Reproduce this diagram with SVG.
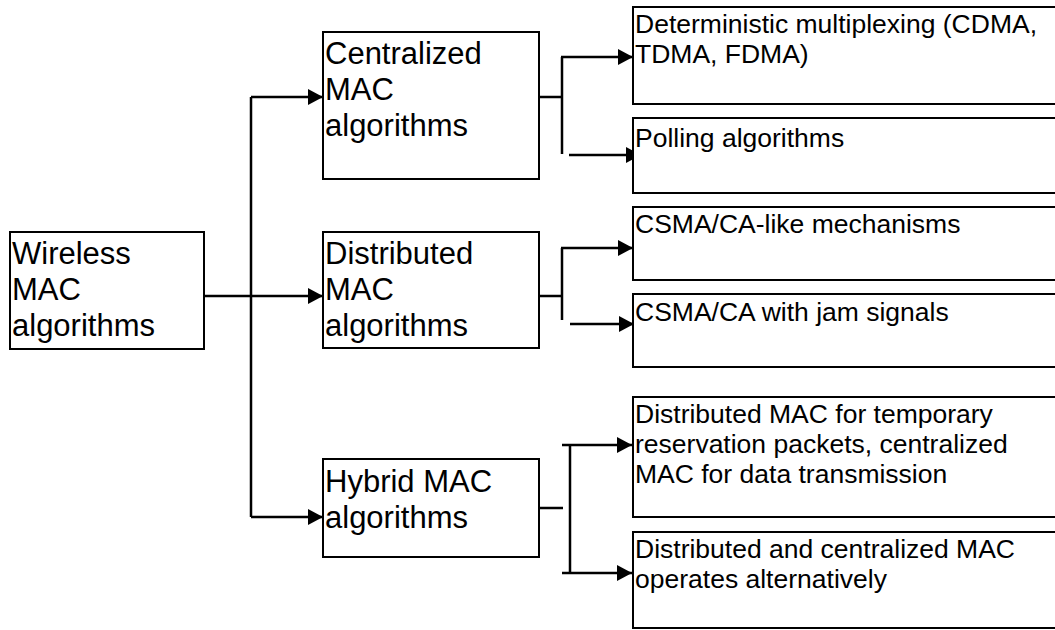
<svg xmlns="http://www.w3.org/2000/svg" width="1055" height="630" viewBox="0 0 1055 630">
<style>
.box{fill:#fff;stroke:#000;stroke-width:2}
.lt{font-family:"Liberation Sans",Arial,sans-serif;font-size:31px;fill:#000}
.rt{font-family:"Liberation Sans",Arial,sans-serif;font-size:26.5px;fill:#000}
.c{fill:none;stroke:#000;stroke-width:2.5}
.a{fill:none;stroke:#000;stroke-width:2.5;marker-end:url(#ah)}
</style>
<defs>
<marker id="ah" markerUnits="userSpaceOnUse" markerWidth="15" markerHeight="16" refX="15" refY="8" orient="auto">
<path d="M0,0 L15,8 L0,16 z" fill="#000"/>
</marker>
</defs>
<rect width="1055" height="630" fill="#fff"/>
<g id="connectors">
<path class="c" d="M204,296 H251 M251,97 V517"/>
<path class="a" d="M251,97 H323"/>
<path class="a" d="M251,296 H323"/>
<path class="a" d="M251,517 H323"/>
<path class="c" d="M539,97 H562 M562,57 V154"/>
<path class="a" d="M561,57 H633"/>
<path class="a" d="M569,155 H641"/>
<path class="c" d="M539,296 H562 M562,248 V320"/>
<path class="a" d="M561,248 H633"/>
<path class="a" d="M570,324 H634"/>
<path class="c" d="M539,508 H563 M570,446 V573"/>
<path class="a" d="M562,445 H632"/>
<path class="a" d="M562,573 H632"/>
</g>
<g id="wireless">
<rect class="box" x="10" y="232" width="194" height="117"/>
<text class="lt" x="12" y="264">Wireless</text>
<text class="lt" x="12" y="300">MAC</text>
<text class="lt" x="12" y="336">algorithms</text>
</g>
<g id="centralized">
<rect class="box" x="323" y="32" width="216" height="147"/>
<text class="lt" x="325" y="64">Centralized</text>
<text class="lt" x="325" y="100">MAC</text>
<text class="lt" x="325" y="136">algorithms</text>
</g>
<g id="distributed">
<rect class="box" x="323" y="232" width="216" height="116"/>
<text class="lt" x="325" y="264">Distributed</text>
<text class="lt" x="325" y="300">MAC</text>
<text class="lt" x="325" y="336">algorithms</text>
</g>
<g id="hybrid">
<rect class="box" x="323" y="459" width="216" height="98"/>
<text class="lt" x="325" y="492">Hybrid MAC</text>
<text class="lt" x="325" y="528">algorithms</text>
</g>
<g id="deterministic">
<rect class="box" x="633" y="7" width="430" height="97"/>
<text class="rt" x="635" y="33">Deterministic multiplexing (CDMA,</text>
<text class="rt" x="635" y="63">TDMA, FDMA)</text>
</g>
<g id="polling">
<rect class="box" x="633" y="118" width="430" height="75"/>
<text class="rt" x="635" y="147">Polling algorithms</text>
</g>
<g id="csma-like">
<rect class="box" x="633" y="207" width="430" height="73"/>
<text class="rt" x="635" y="233">CSMA/CA-like mechanisms</text>
</g>
<g id="csma-jam">
<rect class="box" x="633" y="294" width="430" height="73"/>
<text class="rt" x="635" y="321">CSMA/CA with jam signals</text>
</g>
<g id="hybrid-temp">
<rect class="box" x="633" y="397" width="430" height="120"/>
<text class="rt" x="635" y="423">Distributed MAC for temporary</text>
<text class="rt" x="635" y="453">reservation packets, centralized</text>
<text class="rt" x="635" y="483">MAC for data transmission</text>
</g>
<g id="hybrid-alt">
<rect class="box" x="633" y="532" width="430" height="96"/>
<text class="rt" x="635" y="558">Distributed and centralized MAC</text>
<text class="rt" x="635" y="588">operates alternatively</text>
</g>
</svg>
